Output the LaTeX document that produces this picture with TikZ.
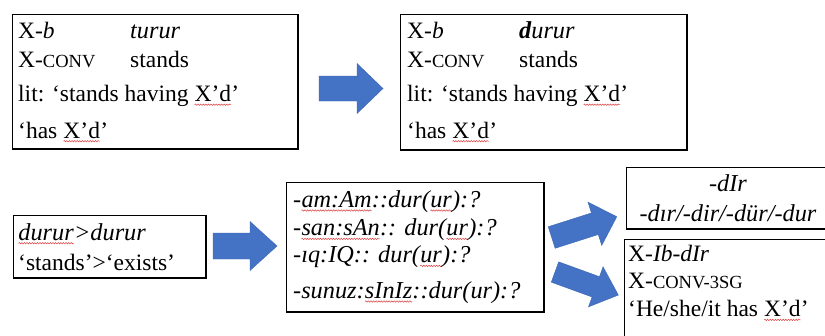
\documentclass[tikz,border=0pt]{standalone}
\usepackage{fontspec}
\setmainfont{Liberation Serif}
\usetikzlibrary{decorations.pathmorphing}
\definecolor{arrowblue}{HTML}{4472C4}
\definecolor{arrowedge}{HTML}{3A66B5}
\definecolor{squig}{HTML}{E04040}
\newcommand\smc[1]{{\fontsize{18.5}{20}\selectfont #1}}
\newcommand\sq[1]{\tikz[baseline=0pt]{\node[inner sep=0pt,outer sep=0pt,anchor=base west,draw=none,fill=none] (sqtext) at (0,0) {#1};\draw[squig,line width=0.5pt,decorate,decoration={snake,amplitude=0.7pt,segment length=2.6pt}] ([yshift=-3.2pt]sqtext.base west) -- ([yshift=-3.2pt]sqtext.base east);}}
% tail x, tail y, angle, length, shaft half width, head half width, head length
\newcommand\myblockarrow[7]{\begin{scope}[shift={(#1,#2)},rotate=#3]
\draw[barrow] (0,-#5) -- ({#4-#7},-#5) -- ({#4-#7},-#6) -- (#4,0) -- ({#4-#7},#6) -- ({#4-#7},#5) -- (0,#5) -- cycle;
\end{scope}}
\begin{document}
\begin{tikzpicture}[x=1pt,y=-1pt,
  box/.style={draw=black,line width=1.6pt,anchor=north west,inner sep=0pt},
  txt/.style={anchor=base west,inner sep=0pt,font=\fontsize{23.5}{28}\selectfont},
  itxt/.style={anchor=base west,inner sep=0pt,font=\fontsize{24.3}{28}\selectfont\itshape},
  ctxt/.style={anchor=base,inner sep=0pt,font=\fontsize{24.3}{28}\selectfont\itshape},
  barrow/.style={fill=arrowblue,draw=arrowedge,line width=0.4pt}]
\clip (0,0) rectangle (825,335);
\fill[white] (0,0) rectangle (825,335);

% boxes
\node[box,minimum width=285.4pt,minimum height=134.4pt] (b1) at (11.8,13.8) {};
\node[box,minimum width=286.4pt,minimum height=135.4pt] (b2) at (399.8,13.8) {};
\node[box,minimum width=192.4pt,minimum height=62.4pt] (b3) at (12.8,214.8) {};
\node[box,minimum width=257.4pt,minimum height=129.4pt] (b4) at (285.8,181.8) {};
\node[box,minimum width=215pt,minimum height=61.4pt] (b5) at (625.8,166.8) {};
\node[box,minimum width=215pt,minimum height=120pt] (b6) at (623.8,238.8) {};

% box 1
\node[txt] (t1a) at (18,38) {X-\textit{b}};
\node[itxt] (t1b) at (130,38) {turur};
\node[txt] (t1c) at (18,67) {X-\smc{CONV}};
\node[txt] (t1d) at (130,67) {stands};
\node[txt] (t1e) at (18,101.5) {lit: ‘stands having \sq{X’d}’};
\node[txt] (t1f) at (18,138) {‘has \sq{X’d}’};

% box 2
\node[txt] (t2a) at (407,38) {X-\textit{b}};
\node[itxt] (t2b) at (519,38) {\textbf{d}urur};
\node[txt] (t2c) at (407,67) {X-\smc{CONV}};
\node[txt] (t2d) at (519,67) {stands};
\node[txt] (t2e) at (407,101.5) {lit: ‘stands having \sq{X’d}’};
\node[txt] (t2f) at (407,138) {‘has \sq{X’d}’};

% box 3
\node[itxt] (t3a) at (18,240) {\sq{durur}>durur};
\node[txt] (t3b) at (18,270) {‘stands’>‘exists’};

% box 4
\node[itxt] (t4a) at (293,207.3) {-\sq{am:Am}::dur(\sq{ur}):?};
\node[itxt] (t4b) at (293,235.7) {-\sq{san:sAn}:: dur(\sq{ur}):?};
\node[itxt] (t4c) at (293,262.7) {-ıq:IQ:: dur(\sq{ur}):?};
\node[itxt] (t4d) at (293,298.3) {-sunuz:\sq{sInIz}::dur(ur):?};

% box 5
\node[ctxt] (t5a) at (728,191.7) {-dIr};
\node[ctxt] (t5b) at (728,221) {-dır/-dir/-dür/-dur};

% box 6
\node[txt] (t6a) at (628,261.7) {X-\textit{Ib-dIr}};
\node[txt] (t6b) at (628,288.3) {X-\smc{CONV-3SG}};
\node[txt] (t6c) at (628,316.7) {‘He/she/it has \sq{X’d}’};

% block arrows
\myblockarrow{319}{88.5}{0}{64}{12.5}{25}{26}
\myblockarrow{213}{246}{0}{64}{13}{24.5}{27}
\myblockarrow{551.7}{237.5}{17.7}{68.3}{11.3}{22.7}{23}
\myblockarrow{555}{272}{-20}{67.4}{10.8}{21.3}{24}
\end{tikzpicture}
\end{document}
